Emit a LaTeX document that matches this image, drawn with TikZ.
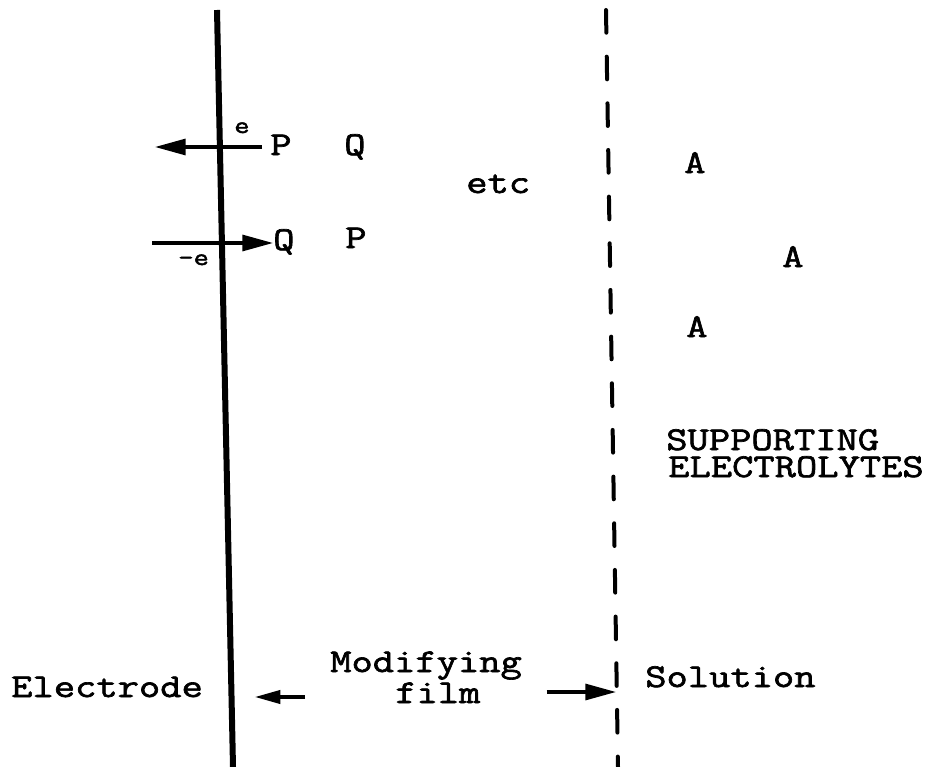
\documentclass[tikz,border=0pt]{standalone}
\usepackage{fontspec}
\setmonofont{Latin Modern Mono}[FakeStretch=1.24, FakeBold=2]
\usetikzlibrary{arrows.meta,calc}
\newcommand{\typefont}[1]{\fontsize{#1}{#1}\selectfont\ttfamily}
\tikzset{
  lbl/.style={anchor=base west, inner sep=0pt, font=\typefont{25}},
  small/.style={anchor=base west, inner sep=0pt, font=\typefont{18}},
  arr/.style={line width=2.3pt, -{Triangle[length=23pt,width=12pt]}},
  arrs/.style={line width=2.3pt, -{Triangle[length=19pt,width=10pt]}},
  electrode/.style={line width=4.5pt},
  boundary/.style={line width=3pt, line cap=round, dash pattern=on 17pt off 18pt},
}
\begin{document}
\begin{tikzpicture}[x=0.75pt,y=-0.75pt]
\useasboundingbox (0,0) rectangle (932,767);
% lines
\coordinate (eltop) at (217,10);
\coordinate (elbot) at (233,767);
\coordinate (soltop) at (606,10);
\coordinate (solbot) at (618,767);
\draw[electrode] (eltop) -- (elbot);
\draw[boundary] (soltop) -- (solbot);
% top species
\node[lbl] (P1) at (270,155) {P};
\node[lbl] (Q1) at (344,155) {Q};
\node[lbl] (Q2) at (273,250) {Q};
\node[lbl] (P2) at (345,248) {P};
\node[small] (e1) at (234,133) {e};
\node[small] (e2) at (178,265) {-e};
\node[lbl] (etc) at (466,193) {etc};
\coordinate (tip1) at (155,147);
\coordinate (tail2) at (152,243);
\draw[arr] ($(P1.west |- tip1)+(-8,0)$) -- (tip1);
\draw[arr] (tail2) -- (Q2.west |- tail2);
% anions
\node[lbl] (A1) at (684,173) {A};
\node[lbl] (A2) at (782,267) {A};
\node[lbl] (A3) at (686,337) {A};
\node[lbl] (sup1) at (666,450) {SUPPORTING};
\node[lbl] (sup2) at (668,477) {ELECTROLYTES};
% bottom labels
\node[lbl] (elec) at (11,697) {Electrode};
\node[lbl] (mod1) at (330,672) {Modifying};
\node[lbl] (mod2) at (395,703) {film};
\node[lbl] (sol) at (645,687) {Solution};
\coordinate (la) at (255,697);
\coordinate (ra) at (616,692);
\draw[arrs] ($(mod1.west |- la)+(-25,0)$) -- (la);
\draw[arr] ($(mod2.east |- ra)+(66,0)$) -- (ra);
\end{tikzpicture}
\end{document}
